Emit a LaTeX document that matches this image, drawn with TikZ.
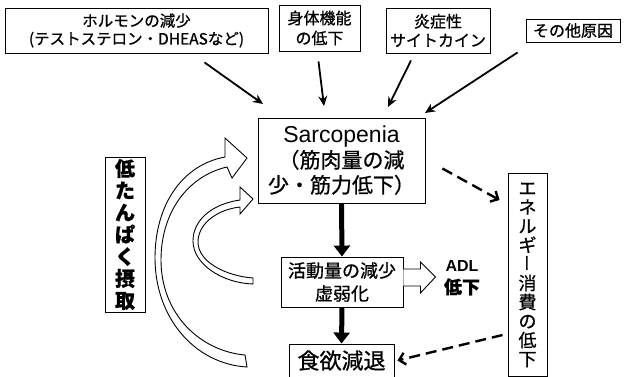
\documentclass[tikz,border=0pt]{standalone}
\usepackage{fontspec}
\usepackage{graphicx}
\setmainfont{Noto Sans CJK JP}[FakeBold=0.8]
\newfontfamily\vjp{Noto Sans CJK JP}[RawFeature=+vert]
\newfontfamily\arialf{Liberation Sans}
\usetikzlibrary{arrows.meta,calc}
\begin{document}
\begin{tikzpicture}[x=1pt,y=-1pt,
  box/.style={draw,line width=0.9pt,inner sep=0pt,align=center},
  cause/.style={-{Stealth[length=10pt,width=9pt]},line width=1.8pt},
  thickarrow/.style={-{Triangle[length=11pt,width=16pt]},line width=5pt},
  dasharrow/.style={-{Straight Barb[length=6pt,width=12pt]},line width=2.4pt,dash pattern=on 11pt off 6pt},
  hollow/.style={draw,line width=0.9pt,fill=white,line join=miter}]
\useasboundingbox (0,0) rectangle (626,377);

% top cause boxes
\node[box,minimum width=263pt,minimum height=45pt,font=\fontsize{15.5}{18}\selectfont] (b1) at (136.5,30.5) {ホルモンの減少\\(テストステロン・DHEASなど)};
\node[box,minimum width=81pt,minimum height=46pt,font=\fontsize{16}{20}\selectfont] (b2) at (319.5,28) {身体機能\\の低下};
\node[box,minimum width=104pt,minimum height=45pt,font=\fontsize{16}{19}\selectfont] (b3) at (438,30.5) {炎症性\\サイトカイン};
\node[box,minimum width=94pt,minimum height=23pt,font=\fontsize{16}{19}\selectfont] (b4) at (573,30.5) {その他原因};

% central boxes
\node[box,minimum width=167pt,minimum height=85pt,font=\fontsize{21}{25}\selectfont] (sar) at (341.5,160.5) {{\arialf\fontsize{23}{25}\selectfont Sarcopenia}\\（筋肉量の減\\少・筋力低下）};
\node[box,minimum width=122pt,minimum height=50pt,font=\fontsize{18}{23}\selectfont] (act) at (342,282) {活動量の減少\\虚弱化};
\node[box,minimum width=105pt,minimum height=33pt,font=\fontsize{22}{24}\selectfont] (food) at (341.5,360.5) {食欲減退};

% vertical boxes
\node[box,minimum width=40pt,minimum height=155pt,font=\bfseries\fontsize{20}{22}\selectfont] (low) at (125,234.5) {低\\た\\ん\\ぱ\\く\\摂\\取};
\node[box,minimum width=39pt,minimum height=203pt,font=\fontsize{18}{19}\selectfont] (ene) at (527.5,275) {エ\\ネ\\ル\\ギ\\{\vjp ー}\\消\\費\\の\\低\\下};

% ADL label
\node[align=center,inner sep=0pt,font=\bfseries\fontsize{18}{22}\selectfont] (adl) at (462,278) {{\arialf\bfseries\fontsize{16}{20}\selectfont ADL}\\低下};

% cause arrows
\coordinate (t1) at (263,104);
\coordinate (t2) at (324,106);
\coordinate (t3) at (388,107);
\coordinate (t4) at (425,113);
\draw[cause] ($(b1.south)+(68,9)$) -- (t1);
\draw[cause] ($(b2.south)+(-1,10)$) -- (t2);
\draw[cause] ($(b3.south)+(-27,7)$) -- (t3);
\draw[cause] ($(b4.south west)+(-8,10)$) -- (t4);

% thick down arrows
\draw[thickarrow] (sar.south) -- (act.north);
\draw[thickarrow] (act.south) -- (food.north);

% dashed arrows
\draw[dasharrow] ($(sar.east)+(17,8)$) -- ($(ene.north west)+(-8,27)$);
\draw[dasharrow] ($(ene.west)+(-5,60)$) -- ($(food.east)+(3,0)$);

% ADL hollow arrow
\draw[hollow,shift={(act.east)}] (0,-13) -- (17,-13) -- (17,-20) -- (32,-5) -- (17,11) -- (17,4) -- (0,4);

% big curved hollow arrows
\draw[hollow] (225,157) .. controls (182,165) and (155,205) .. (155,258)
  .. controls (155,318) and (195,364) .. (247,367) -- (245,355)
  .. controls (200,351) and (161,314) .. (161,260)
  .. controls (161,212) and (188,176) .. (227,167)
  -- (232,178) -- (247,158) -- (225,138) -- cycle;
\draw[hollow] (240,200) .. controls (212,204) and (193,220) .. (193,241)
  .. controls (193,264) and (222,283) .. (253,284) -- (253,278)
  .. controls (226,276) and (198,262) .. (198,242)
  .. controls (198,225) and (215,210) .. (240,207)
  -- (240,214) -- (253,199) -- (240,187) -- cycle;
\end{tikzpicture}
\end{document}
